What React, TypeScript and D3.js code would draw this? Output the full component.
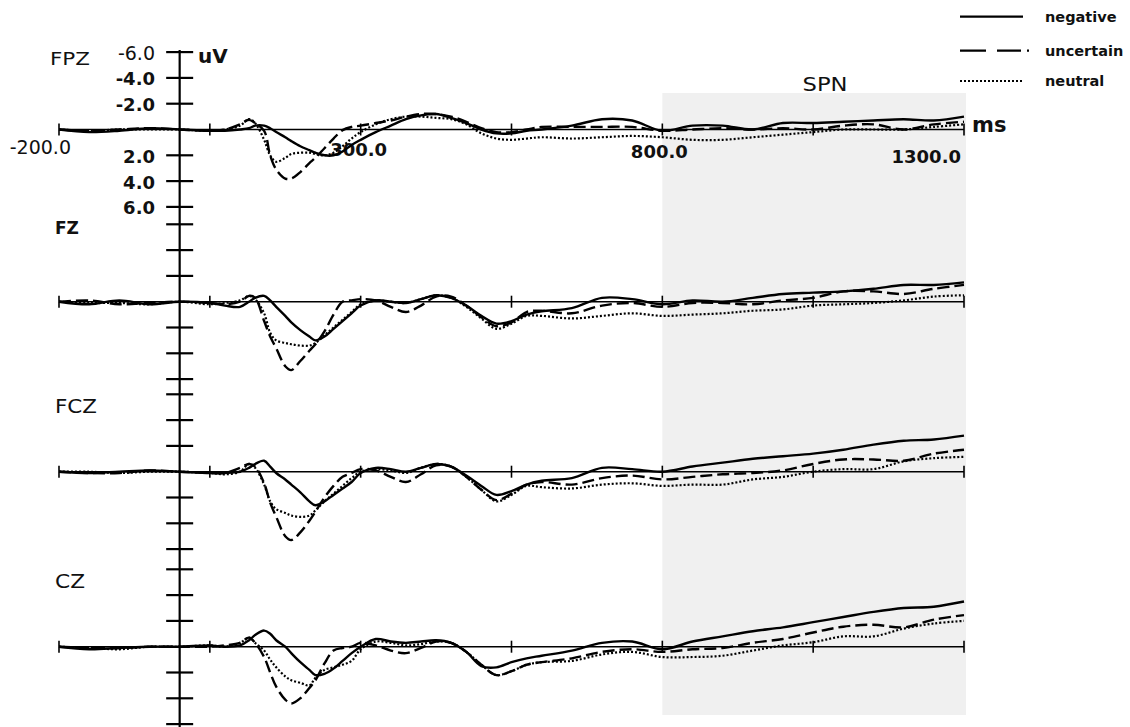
import * as d3 from "d3";

// sample times (ms) shared by every waveform
const times = [
  -200, -150, -100, -50, 0,
  50, 75, 100,
  115, 125, 140, 150, 160, 175, 185, 200,
  215, 225, 240, 255, 270, 285, 300,
  325, 350, 375, 400, 425, 450, 475, 500, 525, 550, 575, 600,
  650, 700, 750, 800, 850, 900, 950, 1000, 1050, 1100, 1150, 1200, 1250, 1300,
];

// amplitudes in uV (negative plotted up)
const fpzNegative = [
  0, 0.2, 0.1, -0.1, 0,
  0.1, 0.1, 0,
  -0.1, -0.3, -0.3, -0.1, 0.2, 0.6, 0.9, 1.3,
  1.6, 1.8, 2.0, 2.0, 1.7, 1.2, 0.8,
  0.2, -0.3, -0.8, -1.1, -1.2, -0.9, -0.5, 0, 0.3, 0.3, 0.1, 0,
  -0.3, -0.8, -0.7, 0.1, -0.3, -0.3, 0, -0.5, -0.5, -0.6, -0.7, -0.8, -0.7, -1.0,
];
const fpzUncertain = [
  0, 0.1, 0, -0.1, 0,
  0.1, 0, -0.4,
  -0.75, -0.5, 0.1, 2.0, 3.1, 3.8, 3.8, 3.3,
  2.6, 2.2, 1.45, 0.7, 0.05, -0.2, -0.3,
  -0.5, -0.7, -1.0, -1.2, -1.2, -1.0, -0.6, -0.1, 0.2, 0.2, 0, -0.2,
  -0.2, -0.2, -0.2, 0.1, 0, -0.1, 0, -0.1, 0, -0.3, -0.4, 0, -0.4, -0.6,
];
const fpzNeutral = [
  0, 0.1, 0, 0, 0,
  0.1, 0, -0.3,
  -0.8, -0.5, 0.8, 2.0, 2.5, 2.2, 1.9, 1.8,
  1.8, 1.9, 2.0, 1.8, 1.3, 0.7, 0.2,
  -0.4, -0.8, -1.0, -1.0, -0.9, -0.8, -0.4, 0.3, 0.7, 0.8, 0.7, 0.6,
  0.7, 0.6, 0.5, 0.6, 0.8, 0.8, 0.6, 0.4, 0.2, 0, 0, 0, -0.2, -0.4,
];

const fzNegative = [
  0, 0.2, -0.1, 0.2, 0,
  0.1, 0.3, 0.4,
  0, -0.3, -0.45, -0.1, 0.4, 1.1, 1.6, 2.2,
  2.7, 3.0, 2.7, 2.1, 1.5, 0.9, 0.3,
  -0.1, 0, 0.1, -0.2, -0.5, -0.3, 0.3, 1.1, 1.7, 1.5, 1.0, 0.75,
  0.5, -0.3, -0.2, 0.2, -0.1, 0, -0.3, -0.6, -0.7, -0.8, -1.0, -1.3, -1.3, -1.5,
];
const fzUncertain = [
  0, -0.1, 0.2, 0.1, 0,
  0.1, 0.2, 0,
  -0.45, -0.3, 1.5, 2.7, 3.6, 5.0, 5.3, 4.6,
  3.8, 3.3, 2.3, 1.0, 0, -0.1, -0.2,
  -0.1, 0.4, 0.8, 0.3, -0.4, -0.4, 0.3, 1.2, 1.9, 1.6, 0.8, 0.7,
  0.9, 0.3, 0.1, 0.4, 0.1, 0.1, 0.2, -0.1, -0.3, -0.8, -0.8, -0.6, -1.0, -1.3,
];
const fzNeutral = [
  0, 0.1, 0.1, 0.2, 0,
  0.2, 0.1, -0.1,
  -0.45, -0.2, 0.9, 2.4, 3.0, 3.2, 3.3, 3.4,
  3.4, 3.2, 2.6, 2.0, 1.4, 0.8, 0.2,
  -0.1, 0, 0.1, -0.2, -0.5, -0.3, 0.4, 1.3, 2.1, 1.7, 1.1, 1.1,
  1.3, 1.1, 0.9, 1.1, 1.0, 0.9, 0.7, 0.6, 0.3, 0.2, 0.1, -0.1, -0.4, -0.5,
];

const fczNegative = [
  0, 0.1, 0, -0.1, 0,
  0.1, 0.1, 0,
  -0.3, -0.6, -0.85, -0.4, 0.1, 0.6, 1.0, 1.6,
  2.3, 2.6, 2.3, 1.8, 1.3, 0.8, 0.1,
  -0.3, -0.2, 0, -0.3, -0.6, -0.4, 0.3, 1.1, 1.8, 1.5, 1.0, 0.7,
  0.5, -0.3, -0.2, 0, -0.4, -0.7, -1.0, -1.2, -1.4, -1.7, -2.1, -2.4, -2.5, -2.8,
];
const fczUncertain = [
  0, 0.1, 0.1, -0.1, 0,
  0.1, 0.1, -0.3,
  -0.6, -0.4, 0.9, 2.4, 3.5, 5.0, 5.3, 4.7,
  3.8, 3.1, 2.0, 1.1, 0.4, 0.1, -0.2,
  -0.1, 0.4, 0.8, 0.2, -0.5, -0.4, 0.4, 1.4, 2.2, 1.7, 1.0, 0.8,
  1.0, 0.5, 0.3, 0.6, 0.4, 0.2, 0.1, -0.1, -0.6, -0.95, -0.95, -0.85, -1.4, -1.7,
];
const fczNeutral = [
  0, 0, 0.1, 0, 0,
  0.1, 0.2, 0,
  -0.6, -0.3, 1.0, 2.3, 2.9, 3.2, 3.4, 3.5,
  3.4, 3.0, 2.3, 1.7, 1.1, 0.5, 0,
  -0.2, -0.1, 0.1, -0.3, -0.6, -0.4, 0.4, 1.4, 2.3, 1.8, 1.1, 1.2,
  1.3, 1.0, 0.9, 1.1, 1.0, 1.0, 0.6, 0.4, 0, -0.2, -0.2, -0.8, -1.05, -1.15,
];

const czNegative = [
  0, 0.2, 0.1, 0, 0,
  -0.1, 0, -0.1,
  -0.5, -0.9, -1.25, -1.0, -0.5, 0, 0.5, 1.2,
  1.8, 2.2, 2.1, 1.7, 1.1, 0.5, 0,
  -0.6, -0.4, -0.3, -0.4, -0.5, -0.3, 0.4, 1.5, 1.6, 1.2, 0.9, 0.7,
  0.3, -0.3, -0.4, 0.2, -0.4, -0.8, -1.2, -1.5, -1.9, -2.3, -2.7, -3.0, -3.1, -3.5,
];
const czUncertain = [
  0, 0.1, 0.1, 0, 0,
  0, -0.1, -0.3,
  -0.7, -0.3, 0.8, 2.0, 3.1, 4.1, 4.4, 4.0,
  3.2, 2.6, 1.3, 0.3, 0.1, 0, -0.3,
  -0.1, 0.3, 0.5, 0.1, -0.4, -0.3, 0.4, 1.4, 2.2, 1.9, 1.4, 1.2,
  0.9, 0.4, 0.2, 0.4, 0.2, 0.1, -0.3, -0.6, -1.1, -1.55, -1.7, -1.5, -2.1, -2.45,
];
const czNeutral = [
  0, 0.1, 0.2, 0, 0,
  -0.1, 0, -0.3,
  -0.7, -0.3, 0.3, 1.0, 1.6, 2.3, 2.6, 2.8,
  3.0, 2.4, 1.8, 1.6, 1.4, 1.1, 0.2,
  -0.4, -0.3, -0.1, -0.2, -0.4, -0.3, 0.4, 1.4, 2.2, 1.9, 1.4, 1.2,
  1.1, 0.6, 0.4, 0.8, 0.8, 0.7, 0.3, -0.1, -0.35, -0.8, -0.8, -1.4, -1.8, -2.0,
];

const channelNames = ["FPZ", "FZ", "FCZ", "CZ"];
const conditions = ["negative", "uncertain", "neutral"];
const yTickValues = [-6, -4, -2, 2, 4, 6];
const xTickValues = [-200, 50, 300, 550, 800, 1050, 1300];
const xLabelValues = [-200, 300, 800, 1300];
const spnWindow = [800, 1300];

const channelSeries = [
  [fpzNegative, fpzUncertain, fpzNeutral],
  [fzNegative, fzUncertain, fzNeutral],
  [fczNegative, fczUncertain, fczNeutral],
  [czNegative, czUncertain, czNeutral],
];

// layout
const W = 1130;
const H = 727;
const baselines = [129.5, 301.7, 471.7, 646.7];
const halfSpan = 77.4; // px for 6 uV
const dashFor: Record<string, string | undefined> = {
  negative: undefined,
  uncertain: "12,5",
  neutral: "2,2",
};
const font = "'DejaVu Sans', sans-serif";

export default function App() {
  const x = d3.scaleLinear().domain([-200, 1300]).range([59, 964]);
  const x0 = x(0);

  const chans = channelNames.map((name, ci) => {
    const base = baselines[ci];
    const y = d3.scaleLinear().domain([-6, 6]).range([base - halfSpan, base + halfSpan]);
    const line = d3
      .line<number>()
      .x((_, i) => x(times[i]))
      .y((d) => y(d))
      .curve(d3.curveCatmullRom.alpha(0.5));
    return { name, base, y, line, series: channelSeries[ci] };
  });

  const labelPos: Record<number, { anchor: string; dx: number; dy: number; bold: boolean }> = {
    [-200]: { anchor: "end", dx: 12, dy: 24, bold: false },
    300: { anchor: "middle", dx: -2, dy: 26, bold: true },
    800: { anchor: "middle", dx: -3, dy: 28, bold: true },
    1300: { anchor: "end", dx: -3, dy: 33, bold: true },
  };

  const chanLabel = [
    { x: 50, y: 65, bold: false, len: 40, size: 18 },
    { x: 55, y: 234, bold: true, len: 0, size: 17 },
    { x: 55, y: 413, bold: false, len: 42, size: 19 },
    { x: 55, y: 588, bold: false, len: 30, size: 19 },
  ];

  return (
    <svg
      width={W}
      height={H}
      style={{ position: "absolute", left: 0, top: 0, display: "block", background: "#fff" }}
    >
      {/* SPN window */}
      <rect
        x={x(spnWindow[0])}
        y={93}
        width={x(spnWindow[1]) - x(spnWindow[0]) + 2}
        height={622}
        fill="#f0f0f0"
      />
      <text
        x={825}
        y={91}
        textAnchor="middle"
        fontFamily={font}
        fontSize={19}
        textLength={45}
        lengthAdjust="spacingAndGlyphs"
        fill="#111"
      >
        SPN
      </text>

      {/* vertical axis */}
      <line x1={x0} x2={x0} y1={50} y2={H} stroke="#000" strokeWidth={2.2} />

      {chans.map((c, ci) => (
        <g key={c.name}>
          {yTickValues.map((v) => (
            <line
              key={v}
              x1={x0 - 13.5}
              x2={x0 + 13.5}
              y1={c.y(v)}
              y2={c.y(v)}
              stroke="#000"
              strokeWidth={2.2}
            />
          ))}
          {ci === 0 &&
            yTickValues.map((v) => (
              <text
                key={"l" + v}
                x={155}
                y={c.y(v) + 7.5}
                textAnchor="end"
                fontFamily={font}
                fontSize={v === -6 ? 19 : 18}
                fontWeight={v === -6 ? "normal" : "bold"}
                fill="#111"
              >
                {v.toFixed(1)}
              </text>
            ))}

          {/* time axis */}
          <line x1={x(-200)} x2={x(1300)} y1={c.base} y2={c.base} stroke="#000" strokeWidth={1.6} />
          {xTickValues.map((t) => (
            <line
              key={t}
              x1={x(t)}
              x2={x(t)}
              y1={c.base - 6}
              y2={c.base + 6}
              stroke="#000"
              strokeWidth={1.6}
            />
          ))}
          {ci === 0 &&
            xLabelValues.map((t) => {
              const p = labelPos[t];
              return (
                <text
                  key={"x" + t}
                  x={x(t) + p.dx}
                  y={c.base + p.dy}
                  textAnchor={p.anchor}
                  fontFamily={font}
                  fontSize={p.bold ? 18 : 19}
                  fontWeight={p.bold ? "bold" : "normal"}
                  fill="#111"
                >
                  {t.toFixed(1)}
                </text>
              );
            })}

          {/* waveforms */}
          {c.series
            .map((vals, si) => ({ vals, cond: conditions[si] }))
            .reverse()
            .map(({ vals, cond }) => (
              <path
                key={cond}
                d={c.line(vals) || ""}
                fill="none"
                stroke="#000"
                strokeWidth={cond === "neutral" ? 2.2 : 2.4}
                strokeDasharray={dashFor[cond]}
                strokeLinejoin="round"
              />
            ))}

          <text
            x={chanLabel[ci].x}
            y={chanLabel[ci].y}
            fontFamily={font}
            fontSize={chanLabel[ci].size}
            fontWeight={chanLabel[ci].bold ? "bold" : "normal"}
            textLength={chanLabel[ci].len || undefined}
            lengthAdjust={chanLabel[ci].len ? "spacingAndGlyphs" : undefined}
            fill="#111"
          >
            {c.name}
          </text>
        </g>
      ))}

      {/* units */}
      <text x={198} y={63} fontFamily={font} fontSize={20} fontWeight="bold" fill="#111">
        uV
      </text>
      <text x={972} y={132} fontFamily={font} fontSize={21} fontWeight="bold" fill="#111">
        ms
      </text>

      {/* legend */}
      {conditions.map((cond, i) => {
        const ly = [16.7, 50.7, 81][i];
        return (
          <g key={cond}>
            <line
              x1={960}
              x2={cond === "uncertain" ? 1029 : 1023}
              y1={ly}
              y2={ly}
              stroke="#000"
              strokeWidth={2.2}
              strokeDasharray={cond === "uncertain" ? "26,11,24,6,2,40" : dashFor[cond]}
            />
            <text
              x={1045}
              y={ly + 5}
              fontFamily={font}
              fontSize={14.5}
              fontWeight="bold"
              fill="#111"
            >
              {cond}
            </text>
          </g>
        );
      })}
    </svg>
  );
}
